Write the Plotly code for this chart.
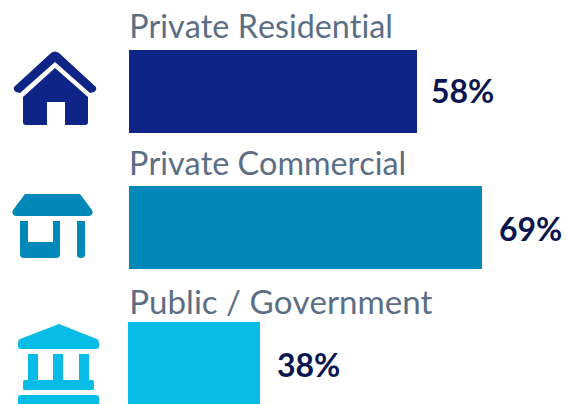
import plotly.graph_objects as go

categories = ["Private Residential", "Private Commercial", "Public / Government"]
labels = ["58%", "69%", "38%"]
bar_lengths = [56.3, 69.0, 25.8]
bar_bases = [0, 0, -0.2]
colors = ["#0e2587", "#0088b9", "#08bce8"]
title_color = "#5b6e84"
value_color = "#0a1650"

W, H = 567, 404
X0 = 129
PX_PER_UNIT = 353 / 69.0
PITCH = 136.0
Y0 = 91.5
BAR_H = 83
title_shifts = [66, 65, 63]
title_sizes = [32.3, 32.3, 33.1]
value_shifts = [1, -1, -1]
value_xshifts = [12, 15, 15]

fig = go.Figure(go.Bar(
    y=categories, x=bar_lengths, base=bar_bases, orientation="h",
    marker=dict(color=colors, line=dict(width=0)),
    width=BAR_H / PITCH, hoverinfo="skip",
))

for i, c in enumerate(categories):
    fig.add_annotation(x=0, y=c, text=c, showarrow=False, xanchor="left", yanchor="middle",
                       xshift=-1, yshift=title_shifts[i],
                       font=dict(family="Lato", size=title_sizes[i], color=title_color))
    fig.add_annotation(x=bar_lengths[i] + bar_bases[i], y=c, text="<b>%s</b>" % labels[i], showarrow=False,
                       xanchor="left", yanchor="middle", xshift=value_xshifts[i], yshift=value_shifts[i],
                       font=dict(family="Lato", size=32, color=value_color))

# icons: outlines measured in pixels, converted to paper fractions
house = ("M 14 87 Q 13 90 16 92 L 20 93 L 55 62 L 90 93 L 94 92 Q 97 90 96 87 L 59 53 Q 55 50 51 53 Z "
         "M 23 97 L 55 68 L 88 97 L 88 122 Q 88 125 85 125 L 65 125 L 65 102 L 47 102 L 47 125 L 26 125 Q 23 125 23 122 Z")
shop = ("M 25 194 L 80 194 L 92 210 Q 94 215 89 216 L 16 216 Q 11 215 13 210 Z "
        "M 20 221 L 28 221 L 28 242 L 53 242 L 53 221 L 60 221 L 60 254 Q 60 258 56 258 L 24 258 Q 20 258 20 254 Z "
        "M 77 221 L 85 221 L 85 255 Q 85 258 81 258 Q 77 258 77 255 Z")
bank = ("M 59 324 L 97 339 Q 99 340 99 343 L 99 346 Q 99 349 96 349 L 21 349 Q 18 349 18 346 L 18 343 Q 18 340 20 339 Z "
        "M 28 354 L 38 354 L 38 380 L 53 380 L 53 354 L 63 354 L 63 380 L 79 380 L 79 354 L 89 354 L 89 380 L 92 380 "
        "Q 94 380 94 382 L 94 389 Q 94 390 92 390 L 25 390 Q 23 390 23 389 L 23 382 Q 23 380 25 380 L 28 380 Z "
        "M 21 395 L 96 395 Q 99 395 99 398 L 99 404 L 18 404 L 18 398 Q 18 395 21 395 Z")


def to_paper(path):
    out, is_x = [], True
    for tok in path.split():
        if tok.isalpha():
            out.append(tok)
            is_x = True
        else:
            v = float(tok)
            out.append("%.5f" % (v / W if is_x else 1 - v / H))
            is_x = not is_x
    return " ".join(out)


for path, col in zip([house, shop, bank], colors):
    fig.add_shape(type="path", path=to_paper(path), xref="paper", yref="paper",
                  fillcolor=col, line=dict(width=0), layer="above")

fig.update_layout(
    width=W, height=H, margin=dict(l=0, r=0, t=0, b=0), showlegend=False,
    paper_bgcolor="white", plot_bgcolor="white",
    xaxis=dict(domain=[0, 1], range=[-X0 / PX_PER_UNIT, (W - X0) / PX_PER_UNIT], visible=False),
    yaxis=dict(range=[(H - Y0) / PITCH, -Y0 / PITCH], visible=False, type="category",
               categoryorder="array", categoryarray=categories),
)
fig.write_html("out.html", config={"displayModeBar": False},
               post_script="document.body.style.margin='0';document.body.style.overflow='hidden';"
                           "var s=document.createElement('style');"
                           "s.textContent='text{font-variant-ligatures:none !important;font-kerning:none !important}';"
                           "document.head.appendChild(s);")
